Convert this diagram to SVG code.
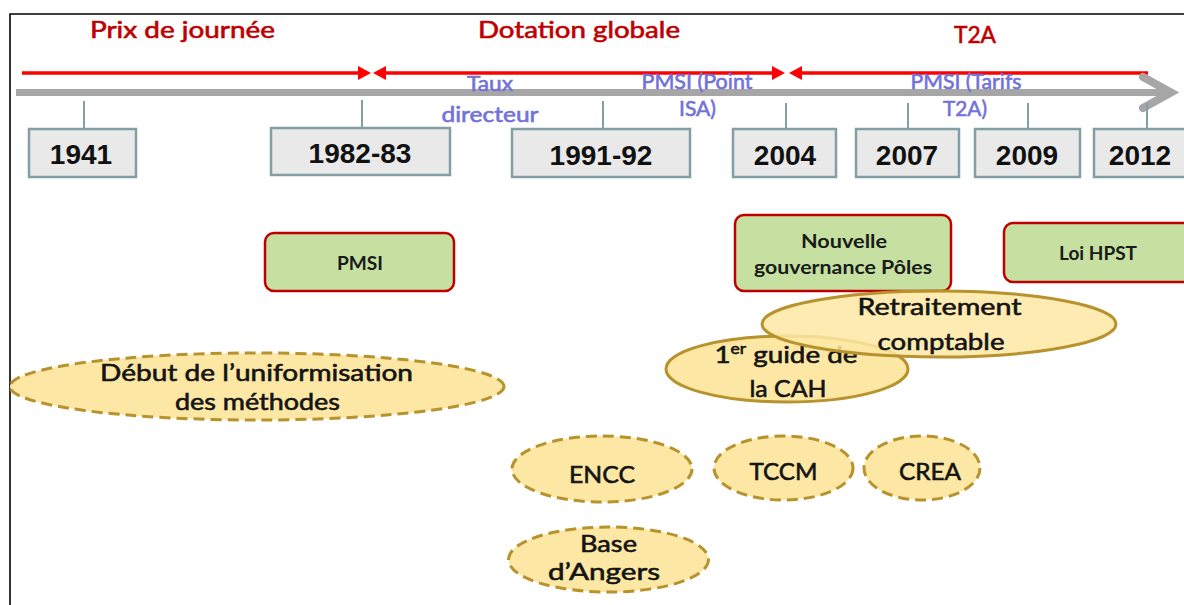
<svg xmlns="http://www.w3.org/2000/svg" width="1184" height="605" viewBox="0 0 1184 605">
  <defs>
    <marker id="redHead" viewBox="0 0 13 14" markerUnits="userSpaceOnUse" markerWidth="13" markerHeight="14" refX="2" refY="7" orient="auto-start-reverse">
      <path d="M0,0 L13,7 L0,14 z" fill="#ff0000"/>
    </marker>
    <style>
      .title { font-family: Lato, "Liberation Sans", sans-serif; font-size: 23px; fill: #c00000; stroke: #c00000; stroke-width: 0.6; text-anchor: middle; }
      .blue { font-family: Lato, "Liberation Sans", sans-serif; font-size: 21px; fill: #7272d9; stroke: #7272d9; stroke-width: 0.6; text-anchor: middle; }
      .redline { stroke: #ff0000; stroke-width: 3.5; fill: none; }
      .tick { stroke: #849fa3; stroke-width: 2; }
      .year rect { fill: #e9e9e9; stroke: #849fa3; stroke-width: 2.5; }
      .year text { font-family: "Liberation Sans", Arial, sans-serif; font-weight: bold; font-size: 28px; fill: #111; text-anchor: middle; }
      .green rect { fill: #c5e0a0; stroke: #c00000; stroke-width: 2.5; }
      .green text { font-family: Lato, "Liberation Sans", sans-serif; font-weight: bold; font-size: 19px; fill: #1a1a1a; text-anchor: middle; }
      .oval ellipse { fill: #fde7a4; stroke: #b8922c; stroke-width: 3; }
      .oval.dashed ellipse { stroke-dasharray: 11 6; }
      .oval text { font-family: Lato, "Liberation Sans", sans-serif; font-size: 24px; fill: #141414; stroke: #141414; stroke-width: 0.6; text-anchor: middle; }
    </style>
  </defs>

  <rect width="1184" height="605" fill="#ffffff"/>
  <path d="M10,605 V14 H1184" fill="none" stroke="#000" stroke-width="1.6"/>

  <g id="titles">
    <text class="title" x="182.5" y="38" textLength="185" lengthAdjust="spacingAndGlyphs">Prix de journée</text>
    <text class="title" x="579" y="38" textLength="202" lengthAdjust="spacingAndGlyphs">Dotation globale</text>
    <text class="title" x="975" y="43" textLength="42" lengthAdjust="spacingAndGlyphs">T2A</text>
  </g>

  <g id="connectors">
    <line class="redline" x1="22" y1="73" x2="360" y2="73" marker-end="url(#redHead)"/>
    <line class="redline" x1="384" y1="73" x2="774" y2="73" marker-start="url(#redHead)" marker-end="url(#redHead)"/>
    <line class="redline" x1="800" y1="73" x2="1148" y2="73" marker-start="url(#redHead)"/>
    <line x1="16" y1="92.5" x2="1168" y2="92.5" stroke="#a6a6a6" stroke-width="7"/>
    <polyline points="1143,77 1171,92.5 1143,108" fill="none" stroke="#a6a6a6" stroke-width="8" stroke-linecap="round"/>
    <line class="tick" x1="84" y1="101" x2="84" y2="129"/>
    <line class="tick" x1="362" y1="100" x2="362" y2="128"/>
    <line class="tick" x1="603" y1="101" x2="603" y2="129"/>
    <line class="tick" x1="786" y1="103" x2="786" y2="129"/>
    <line class="tick" x1="908" y1="103" x2="908" y2="129"/>
    <line class="tick" x1="1028" y1="103" x2="1028" y2="129"/>
    <line class="tick" x1="1147" y1="103" x2="1147" y2="129"/>
  </g>

  <g id="period-labels">
    <text class="blue" x="490" y="91" textLength="46" lengthAdjust="spacingAndGlyphs">Taux</text>
    <text class="blue" x="490" y="122" textLength="97" lengthAdjust="spacingAndGlyphs">directeur</text>
    <text class="blue" x="697" y="89" textLength="111" lengthAdjust="spacingAndGlyphs">PMSI (Point</text>
    <text class="blue" x="697.5" y="116" textLength="37" lengthAdjust="spacingAndGlyphs">ISA)</text>
    <text class="blue" x="966" y="89" textLength="111" lengthAdjust="spacingAndGlyphs">PMSI (Tarifs</text>
    <text class="blue" x="965" y="116" textLength="44" lengthAdjust="spacingAndGlyphs">T2A)</text>
  </g>

  <g id="y1941" class="year"><rect x="29" y="129" width="107" height="48"/><text x="81" y="164">1941</text></g>
  <g id="y1982" class="year"><rect x="271" y="128" width="179" height="47"/><text x="360" y="163">1982-83</text></g>
  <g id="y1991" class="year"><rect x="512" y="129" width="178" height="48"/><text x="601" y="165">1991-92</text></g>
  <g id="y2004" class="year"><rect x="733" y="129" width="103" height="48"/><text x="785" y="165">2004</text></g>
  <g id="y2007" class="year"><rect x="856" y="129" width="103" height="48"/><text x="907" y="165">2007</text></g>
  <g id="y2009" class="year"><rect x="975" y="129" width="105" height="48"/><text x="1027" y="165">2009</text></g>
  <g id="y2012" class="year"><rect x="1094" y="129" width="110" height="48"/><text x="1140" y="165">2012</text></g>

  <g id="pmsi" class="green"><rect x="265" y="233" width="189" height="58" rx="9"/><text x="360" y="270" textLength="46" lengthAdjust="spacingAndGlyphs">PMSI</text></g>
  <g id="gouvernance" class="green"><rect x="735" y="215" width="216" height="76" rx="9"/>
    <text x="844" y="248" textLength="86" lengthAdjust="spacingAndGlyphs">Nouvelle</text>
    <text x="843" y="274" textLength="178" lengthAdjust="spacingAndGlyphs">gouvernance Pôles</text></g>
  <g id="hpst" class="green"><rect x="1004" y="223" width="200" height="59" rx="9"/><text x="1098" y="260" textLength="78" lengthAdjust="spacingAndGlyphs">Loi HPST</text></g>

  <g id="uniformisation" class="oval dashed"><ellipse cx="257" cy="386.5" rx="247" ry="33.5"/>
    <text x="256.5" y="381" font-size="23" textLength="313" lengthAdjust="spacingAndGlyphs">Début de l’uniformisation</text>
    <text x="257.5" y="410" font-size="23" textLength="165" lengthAdjust="spacingAndGlyphs">des méthodes</text></g>

  <g id="guide-cah" class="oval"><ellipse cx="787" cy="369" rx="121" ry="33"/>
    <text x="786" y="363" textLength="143" lengthAdjust="spacingAndGlyphs">1<tspan font-size="15" dy="-9">er</tspan><tspan dy="9"> guide de</tspan></text>
    <text x="788" y="397" textLength="77" lengthAdjust="spacingAndGlyphs">la CAH</text></g>

  <g id="retraitement" class="oval"><ellipse cx="939" cy="324" rx="177" ry="33" fill-opacity="0.85"/>
    <text x="939.5" y="315" textLength="164" lengthAdjust="spacingAndGlyphs">Retraitement</text>
    <text x="941" y="350" textLength="127" lengthAdjust="spacingAndGlyphs">comptable</text></g>

  <g id="encc" class="oval dashed"><ellipse cx="602" cy="469" rx="90" ry="33"/>
    <text x="602" y="483" textLength="66" lengthAdjust="spacingAndGlyphs">ENCC</text></g>
  <g id="tccm" class="oval dashed"><ellipse cx="783.5" cy="468" rx="69.5" ry="32"/>
    <text x="783.5" y="480" textLength="68" lengthAdjust="spacingAndGlyphs">TCCM</text></g>
  <g id="crea" class="oval dashed"><ellipse cx="922" cy="468" rx="58" ry="32"/>
    <text x="930" y="480" textLength="62" lengthAdjust="spacingAndGlyphs">CREA</text></g>
  <g id="angers" class="oval dashed"><ellipse cx="608.5" cy="559.5" rx="100" ry="32.5"/>
    <text x="608.5" y="552" textLength="57" lengthAdjust="spacingAndGlyphs">Base</text>
    <text x="604" y="580" textLength="112" lengthAdjust="spacingAndGlyphs">d’Angers</text></g>
</svg>
